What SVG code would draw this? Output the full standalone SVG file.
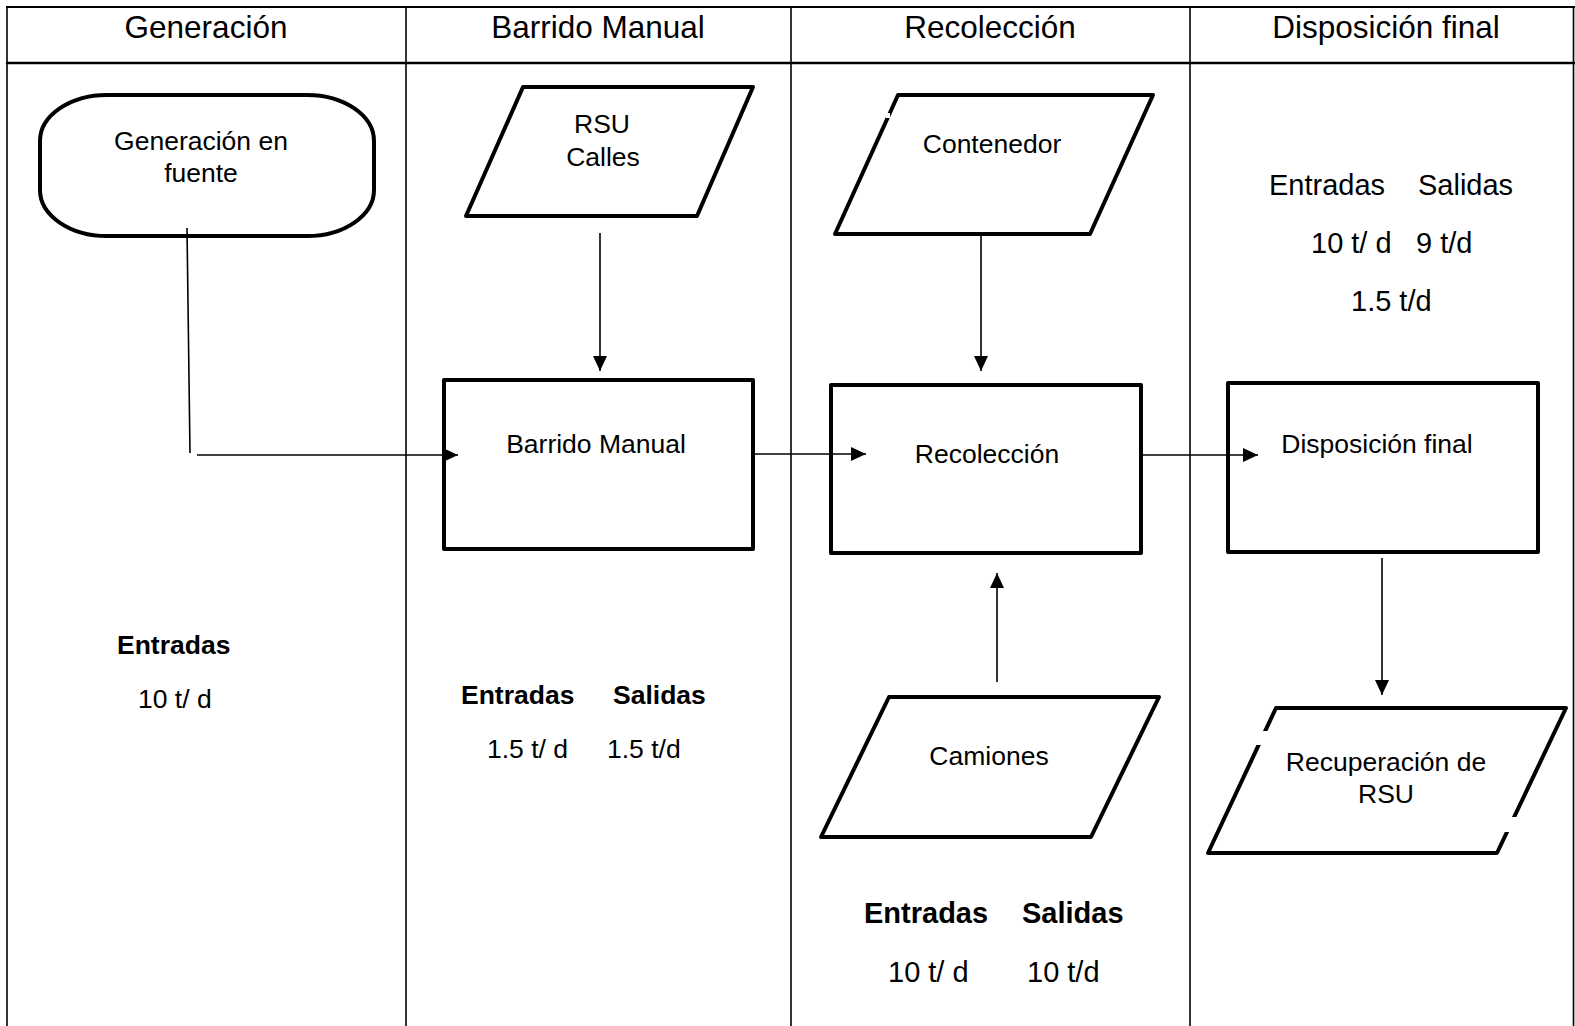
<svg xmlns="http://www.w3.org/2000/svg" width="1575" height="1026" viewBox="0 0 1575 1026">
  <defs>
    <marker id="arrow" markerUnits="userSpaceOnUse" markerWidth="16" markerHeight="14" refX="15" refY="7" orient="auto">
      <path d="M0,0 L15,7 L0,14 Z" fill="#000"/>
    </marker>
    <style>
      text { font-family: "Liberation Sans", Arial, sans-serif; fill: #000; }
      .head { font-size: 31.5px; text-anchor: middle; }
      .lbl { font-size: 26.5px; text-anchor: middle; }
      .val { font-size: 26.5px; }
      .bold { font-size: 26.5px; font-weight: bold; }
      .big { font-size: 29px; }
      .shape { fill: #fff; stroke: #000; stroke-width: 4; stroke-linejoin: round; }
      .conn { fill: none; stroke: #000; stroke-width: 1.6; }
      .grid { fill: none; stroke: #000; }
      .gap { fill: #fff; stroke: none; }
    </style>
  </defs>

  <rect width="1575" height="1026" fill="#fff"/>

  <!-- swimlane table -->
  <g id="table">
    <line class="grid" x1="6" y1="7" x2="1575" y2="7" stroke-width="2.2"/>
    <line class="grid" x1="6" y1="63" x2="1575" y2="63" stroke-width="2.6"/>
    <line class="grid" x1="7" y1="6" x2="7" y2="1026" stroke-width="1.6"/>
    <line class="grid" x1="406" y1="6" x2="406" y2="1026" stroke-width="1.6"/>
    <line class="grid" x1="791" y1="6" x2="791" y2="1026" stroke-width="1.6"/>
    <line class="grid" x1="1190" y1="6" x2="1190" y2="1026" stroke-width="1.6"/>
    <line class="grid" x1="1573.5" y1="6" x2="1573.5" y2="1026" stroke-width="1.6"/>
    <text class="head" x="206" y="38">Generación</text>
    <text class="head" x="598" y="38">Barrido Manual</text>
    <text class="head" x="990" y="38">Recolección</text>
    <text class="head" x="1386" y="38">Disposición final</text>
  </g>

  <!-- Generación lane -->
  <g id="generacion-fuente">
    <rect class="shape" x="40" y="95" width="334" height="141" rx="67" ry="46"/>
    <text class="lbl" x="201" y="150">Generación en</text>
    <text class="lbl" x="201" y="182">fuente</text>
  </g>
  <g id="generacion-datos">
    <text class="bold" x="117" y="654">Entradas</text>
    <text class="val" x="138" y="708">10 t/ d</text>
  </g>

  <!-- Barrido Manual lane -->
  <g id="rsu-calles">
    <polygon class="shape" points="523,87 753,87 697,216 466,216"/>
    <text class="lbl" x="602" y="133">RSU</text>
    <text class="lbl" x="603" y="166">Calles</text>
  </g>
  <g id="barrido-manual">
    <rect class="shape" x="444" y="380" width="309" height="169"/>
    <text class="lbl" x="596" y="453">Barrido Manual</text>
  </g>
  <g id="barrido-datos">
    <text class="bold" x="461" y="704">Entradas</text>
    <text class="bold" x="613" y="704">Salidas</text>
    <text class="val" x="487" y="758">1.5 t/ d</text>
    <text class="val" x="607" y="758">1.5 t/d</text>
  </g>

  <!-- Recolección lane -->
  <g id="contenedor">
    <polygon class="shape" points="898,95 1153,95 1090,234 835,234"/>
    <rect class="gap" x="886" y="113" width="4" height="5"/>
    <text class="lbl" x="992" y="153">Contenedor</text>
  </g>
  <g id="recoleccion">
    <rect class="shape" x="831" y="385" width="310" height="168"/>
    <text class="lbl" x="987" y="463">Recolección</text>
  </g>
  <g id="camiones">
    <polygon class="shape" points="889,697 1159,697 1091,837 821,837"/>
    <text class="lbl" x="989" y="765">Camiones</text>
  </g>
  <g id="recoleccion-datos">
    <text class="bold big" x="864" y="923">Entradas</text>
    <text class="bold big" x="1022" y="923">Salidas</text>
    <text class="val big" x="888" y="982">10 t/ d</text>
    <text class="val big" x="1027" y="982">10 t/d</text>
  </g>

  <!-- Disposición final lane -->
  <g id="disposicion-datos">
    <text class="val big" x="1269" y="195">Entradas</text>
    <text class="val big" x="1418" y="195">Salidas</text>
    <text class="val big" x="1311" y="253">10 t/ d</text>
    <text class="val big" x="1416" y="253">9 t/d</text>
    <text class="val big" x="1351" y="311">1.5 t/d</text>
  </g>
  <g id="disposicion-final">
    <rect class="shape" x="1228" y="383" width="310" height="169"/>
    <text class="lbl" x="1377" y="453">Disposición final</text>
  </g>
  <g id="recuperacion-rsu">
    <polygon class="shape" points="1276,708 1566,708 1497,853 1208,853"/>
    <rect class="gap" x="1253" y="731" width="20" height="14"/>
    <rect class="gap" x="1500" y="817" width="20" height="15"/>
    <text class="lbl" x="1386" y="771">Recuperación de</text>
    <text class="lbl" x="1386" y="803">RSU</text>
  </g>

  <!-- connectors, drawn above the shapes -->
  <g id="connectors">
    <polyline class="conn" points="187,228 190,453"/>
    <line class="conn" x1="197" y1="455" x2="458" y2="455" marker-end="url(#arrow)"/>
    <line class="conn" x1="600" y1="233" x2="600" y2="371" marker-end="url(#arrow)"/>
    <line class="conn" x1="755" y1="454" x2="866" y2="454" marker-end="url(#arrow)"/>
    <line class="conn" x1="981" y1="236" x2="981" y2="371" marker-end="url(#arrow)"/>
    <line class="conn" x1="997" y1="682" x2="997" y2="573" marker-end="url(#arrow)"/>
    <line class="conn" x1="1143" y1="455" x2="1258" y2="455" marker-end="url(#arrow)"/>
    <line class="conn" x1="1382" y1="558" x2="1382" y2="695" marker-end="url(#arrow)"/>
  </g>
</svg>
